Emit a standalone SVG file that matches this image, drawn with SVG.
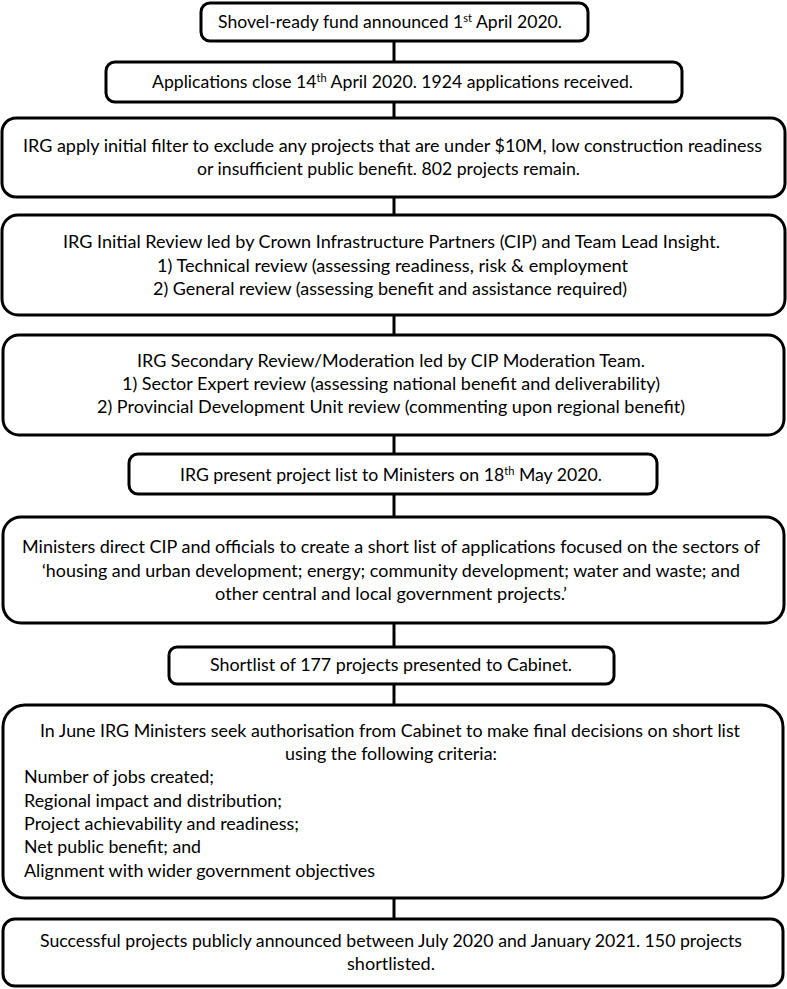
<svg xmlns="http://www.w3.org/2000/svg" width="787" height="989" viewBox="0 0 787 989">
<style>
.box{fill:#fff;stroke:#000;stroke-width:3}
.t{font-family:Lato,"Open Sans","Liberation Sans",sans-serif;font-size:17.5px;fill:#000}
.tl{font-size:18px}
.c{text-anchor:middle}
.sup{font-size:11px}
.conn line{stroke:#000;stroke-width:3}
</style>
<rect width="787" height="989" fill="#fff"/>
<g class="conn">
<line x1="394" y1="41" x2="394" y2="62"/>
<line x1="394" y1="102" x2="394" y2="118"/>
<line x1="394" y1="197" x2="394" y2="215"/>
<line x1="394" y1="315" x2="394" y2="335"/>
<line x1="394" y1="435" x2="394" y2="454"/>
<line x1="394" y1="494" x2="394" y2="517"/>
<line x1="394" y1="623" x2="394" y2="647"/>
<line x1="394" y1="684" x2="394" y2="705"/>
<line x1="394" y1="898" x2="394" y2="919"/>
</g>
<g id="n1">
<rect class="box" x="201" y="3" width="387" height="38" rx="9"/>
<text class="t c" x="390" y="28" textLength="344" lengthAdjust="spacingAndGlyphs">Shovel-ready fund announced 1<tspan class="sup" dy="-6">st</tspan><tspan dy="6"> April 2020.</tspan></text>
</g>
<g id="n2">
<rect class="box" x="106" y="62" width="576" height="40" rx="9"/>
<text class="t c" x="392.5" y="88" textLength="481" lengthAdjust="spacingAndGlyphs">Applications close 14<tspan class="sup" dy="-6">th</tspan><tspan dy="6"> April 2020. 1924 applications received.</tspan></text>
</g>
<g id="n3">
<rect class="box" x="2" y="118" width="783" height="79" rx="14"/>
<text class="t c" x="392.5" y="152" textLength="739" lengthAdjust="spacingAndGlyphs">IRG apply initial filter to exclude any projects that are under $10M, low construction readiness</text>
<text class="t c" x="388.5" y="175" textLength="383" lengthAdjust="spacingAndGlyphs">or insufficient public benefit. 802 projects remain.</text>
</g>
<g id="n4">
<rect class="box" x="2" y="215" width="783" height="100" rx="16"/>
<text class="t c" x="391.5" y="248" textLength="657" lengthAdjust="spacingAndGlyphs">IRG Initial Review led by Crown Infrastructure Partners (CIP) and Team Lead Insight.</text>
<text class="t c" x="392.5" y="272" textLength="471" lengthAdjust="spacingAndGlyphs">1) Technical review (assessing readiness, risk &amp; employment</text>
<text class="t c" x="390" y="295" textLength="474" lengthAdjust="spacingAndGlyphs">2) General review (assessing benefit and assistance required)</text>
</g>
<g id="n5">
<rect class="box" x="3" y="335" width="781" height="100" rx="16"/>
<text class="t tl c" x="391" y="367" textLength="508" lengthAdjust="spacingAndGlyphs">IRG Secondary Review/Moderation led by CIP Moderation Team.</text>
<text class="t tl c" x="391" y="390" textLength="538" lengthAdjust="spacingAndGlyphs">1) Sector Expert review (assessing national benefit and deliverability)</text>
<text class="t tl c" x="391" y="413" textLength="588" lengthAdjust="spacingAndGlyphs">2) Provincial Development Unit review (commenting upon regional benefit)</text>
</g>
<g id="n6">
<rect class="box" x="129" y="454" width="528" height="40" rx="9"/>
<text class="t c" x="391" y="481" textLength="422" lengthAdjust="spacingAndGlyphs">IRG present project list to Ministers on 18<tspan class="sup" dy="-6">th</tspan><tspan dy="6"> May 2020.</tspan></text>
</g>
<g id="n7">
<rect class="box" x="3" y="517" width="781" height="106" rx="18"/>
<text class="t tl c" x="391" y="553" textLength="738" lengthAdjust="spacingAndGlyphs">Ministers direct CIP and officials to create a short list of applications focused on the sectors of</text>
<text class="t tl c" x="391" y="577" textLength="698" lengthAdjust="spacingAndGlyphs">‘housing and urban development; energy; community development; water and waste; and</text>
<text class="t tl c" x="391" y="600" textLength="352" lengthAdjust="spacingAndGlyphs">other central and local government projects.’</text>
</g>
<g id="n8">
<rect class="box" x="169" y="647" width="445" height="37" rx="8"/>
<text class="t tl c" x="391" y="671" textLength="362" lengthAdjust="spacingAndGlyphs">Shortlist of 177 projects presented to Cabinet.</text>
</g>
<g id="n9">
<rect class="box" x="3" y="705" width="780" height="193" rx="22"/>
<text class="t tl c" x="390" y="737" textLength="700" lengthAdjust="spacingAndGlyphs">In June IRG Ministers seek authorisation from Cabinet to make final decisions on short list</text>
<text class="t tl c" x="391" y="760" textLength="212" lengthAdjust="spacingAndGlyphs">using the following criteria:</text>
<text class="t tl" x="24" y="783" textLength="190" lengthAdjust="spacingAndGlyphs">Number of jobs created;</text>
<text class="t tl" x="24" y="807" textLength="258" lengthAdjust="spacingAndGlyphs">Regional impact and distribution;</text>
<text class="t tl" x="24" y="830" textLength="275" lengthAdjust="spacingAndGlyphs">Project achievability and readiness;</text>
<text class="t tl" x="24" y="853" textLength="177" lengthAdjust="spacingAndGlyphs">Net public benefit; and</text>
<text class="t tl" x="24" y="877" textLength="351" lengthAdjust="spacingAndGlyphs">Alignment with wider government objectives</text>
</g>
<g id="n10">
<rect class="box" x="3" y="919" width="780" height="67" rx="12"/>
<text class="t tl c" x="391" y="947" textLength="702" lengthAdjust="spacingAndGlyphs">Successful projects publicly announced between July 2020 and January 2021. 150 projects</text>
<text class="t tl c" x="391" y="970" textLength="88" lengthAdjust="spacingAndGlyphs">shortlisted.</text>
</g>
</svg>
